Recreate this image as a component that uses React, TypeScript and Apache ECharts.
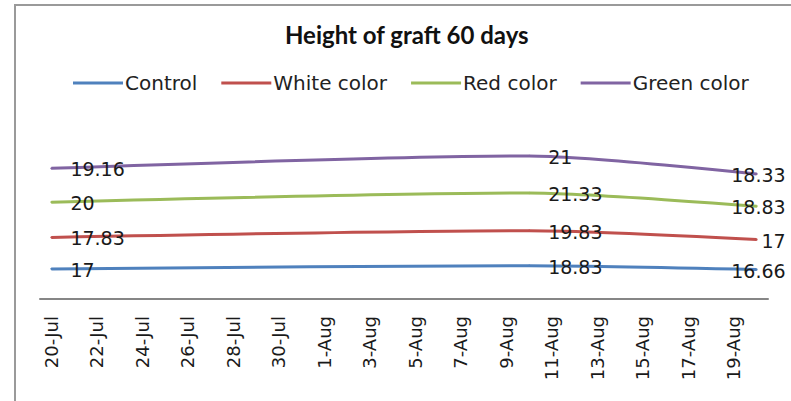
import React, { useEffect, useRef } from "react";
import * as echarts from "echarts";

const categories = [
  "20-Jul", "21-Jul", "22-Jul", "23-Jul", "24-Jul", "25-Jul", "26-Jul", "27-Jul",
  "28-Jul", "29-Jul", "30-Jul", "31-Jul", "1-Aug", "2-Aug", "3-Aug", "4-Aug",
  "5-Aug", "6-Aug", "7-Aug", "8-Aug", "9-Aug", "10-Aug", "11-Aug", "12-Aug",
  "13-Aug", "14-Aug", "15-Aug", "16-Aug", "17-Aug", "18-Aug", "19-Aug", "20-Aug",
];
const pointDates = ["20-Jul", "10-Aug", "20-Aug"];
const seriesNames = ["Control", "White color", "Red color", "Green color"];
const control = [17, 18.83, 16.66];
const white = [17.83, 19.83, 17];
const red = [20, 21.33, 18.83];
const green = [19.16, 21, 18.33];
const colors = ["#4F81BD", "#C0504D", "#9BBB59", "#8064A2"];

const FONT = "DejaVu Sans";

export default function App() {
  const ref = useRef<HTMLDivElement>(null);
  useEffect(() => {
    if (!ref.current) return;
    const chart = echarts.init(ref.current, undefined, { renderer: "svg" });
    const all = [control, white, red, green];
    const series = all.map((vals, si) => ({
      name: seriesNames[si],
      type: "line",
      stack: "total",
      smooth: 0.25,
      symbol: "circle",
      symbolSize: 2,
      lineStyle: { width: 3, color: colors[si] },
      itemStyle: { color: colors[si] },
      label: {
        show: true,
        position: "right",
        distance: 18,
        fontFamily: FONT,
        fontSize: 19,
        color: "#1a1a1a",
        offset: [0, 1],
      },
      data: vals.map((v, i) => {
        if (i === vals.length - 1) {
          return {
            value: [pointDates[i], v],
            label: { position: "inside", align: "right", offset: [29, 1] },
          };
        }
        return { value: [pointDates[i], v] };
      }),
    }));
    chart.setOption({
      animation: false,
      color: colors,
      title: {
        text: "Height of graft 60 days",
        left: 280,
        top: 17,
        textStyle: { fontFamily: "Lato", fontWeight: "bold", fontSize: 24, color: "#111" },
      },
      legend: {
        top: 68,
        left: 68,
        icon: "rect",
        itemWidth: 50,
        itemHeight: 3,
        itemGap: 24,
        textStyle: { fontFamily: FONT, fontSize: 20, color: "#222", padding: [0, 0, 0, -3] },
        data: seriesNames,
      },
      graphic: [
        {
          type: "rect",
          shape: { x: 15, y: 5, width: 800, height: 420 },
          style: { fill: "none", stroke: "#9a9a9a", lineWidth: 2 },
          silent: true,
        },
      ],
      grid: { left: 40, right: 23, top: 140, bottom: 102 },
      xAxis: {
        type: "category",
        data: categories,
        boundaryGap: true,
        axisLine: { show: true, lineStyle: { color: "#868686", width: 2 } },
        axisTick: { show: false },
        axisLabel: {
          interval: 1,
          rotate: 90,
          margin: 17,
          fontFamily: FONT,
          fontSize: 18,
          color: "#1a1a1a",
        },
      },
      yAxis: {
        type: "value",
        min: 0,
        max: 90,
        show: false,
        splitLine: { show: false },
      },
      series,
    });
    return () => chart.dispose();
  }, []);
  return (
    <div
      ref={ref}
      style={{ position: "fixed", left: 0, top: 0, width: 791, height: 401, background: "#fff" }}
    />
  );
}
